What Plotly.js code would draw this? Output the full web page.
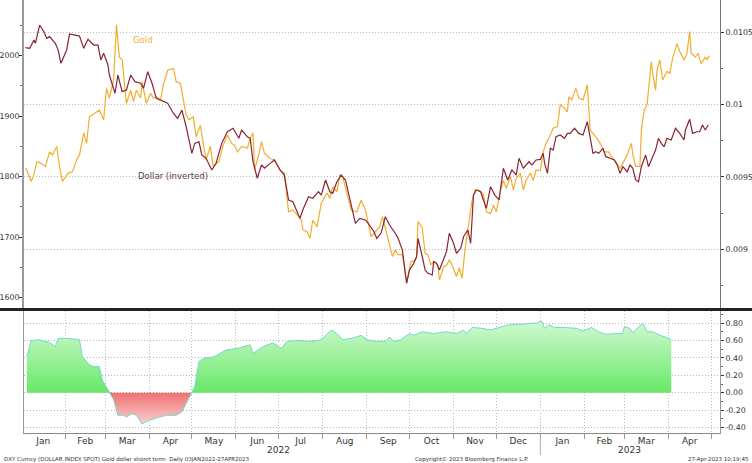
<!DOCTYPE html>
<html>
<head>
<meta charset="utf-8">
<script src="https://cdn.plot.ly/plotly-3.0.1.min.js"></script>
<style>
  body { margin: 0; background: #fff; }
  #chart { width: 752px; height: 463px; }
</style>
</head>
<body>
<div id="chart"></div>
<script>
// Gold spot, USD (left axis)
const goldDates = [
  '2022-01-04','2022-01-05','2022-01-08','2022-01-10','2022-01-12','2022-01-15','2022-01-18','2022-01-21','2022-01-23','2022-01-26','2022-01-28','2022-01-30',
  '2022-02-03','2022-02-06','2022-02-09','2022-02-11','2022-02-14','2022-02-16','2022-02-18','2022-02-22','2022-02-25','2022-02-28',
  '2022-03-02','2022-03-04','2022-03-07','2022-03-09','2022-03-11','2022-03-13','2022-03-16','2022-03-19','2022-03-21','2022-03-23','2022-03-26','2022-03-27','2022-03-30',
  '2022-04-02','2022-04-04','2022-04-06','2022-04-09','2022-04-11','2022-04-14','2022-04-18','2022-04-20','2022-04-23','2022-04-25','2022-04-27','2022-04-29',
  '2022-05-02','2022-05-04','2022-05-07','2022-05-09','2022-05-11','2022-05-14','2022-05-16','2022-05-20','2022-05-23','2022-05-26','2022-05-29','2022-05-31',
  '2022-06-02','2022-06-05','2022-06-09','2022-06-11','2022-06-13','2022-06-14','2022-06-17','2022-06-19','2022-06-21','2022-06-25','2022-06-28',
  '2022-07-02','2022-07-05','2022-07-08','2022-07-11','2022-07-14','2022-07-17','2022-07-18','2022-07-21','2022-07-23','2022-07-25','2022-07-28','2022-07-31',
  '2022-08-04','2022-08-06','2022-08-08','2022-08-11','2022-08-13','2022-08-15','2022-08-18','2022-08-21','2022-08-25','2022-08-28','2022-08-31',
  '2022-09-02','2022-09-04','2022-09-07','2022-09-10','2022-09-12','2022-09-15','2022-09-16','2022-09-19','2022-09-21','2022-09-23','2022-09-26','2022-09-28','2022-09-29',
  '2022-10-02','2022-10-04','2022-10-06','2022-10-07','2022-10-10','2022-10-12','2022-10-14','2022-10-16','2022-10-18','2022-10-21','2022-10-22','2022-10-25','2022-10-27','2022-10-29','2022-10-31',
  '2022-11-03','2022-11-05','2022-11-07','2022-11-09','2022-11-11','2022-11-14','2022-11-16','2022-11-19','2022-11-22','2022-11-24','2022-11-27','2022-11-29',
  '2022-12-01','2022-12-04','2022-12-06','2022-12-08','2022-12-11','2022-12-13','2022-12-15','2022-12-18','2022-12-20','2022-12-22','2022-12-25','2022-12-27','2022-12-29',
  '2023-01-01','2023-01-03','2023-01-05','2023-01-08','2023-01-10','2023-01-13','2023-01-15','2023-01-18','2023-01-20','2023-01-21','2023-01-23','2023-01-26','2023-01-28','2023-01-31',
  '2023-02-03','2023-02-05','2023-02-07','2023-02-10','2023-02-12','2023-02-15','2023-02-18','2023-02-20','2023-02-23','2023-02-26','2023-02-28',
  '2023-03-03','2023-03-06','2023-03-07','2023-03-09','2023-03-12','2023-03-13','2023-03-15','2023-03-17','2023-03-20','2023-03-21','2023-03-23','2023-03-24','2023-03-26','2023-03-28','2023-03-31',
  '2023-04-02','2023-04-04','2023-04-07','2023-04-09','2023-04-12','2023-04-14','2023-04-16','2023-04-17','2023-04-20','2023-04-22','2023-04-24','2023-04-27','2023-04-28','2023-04-30'
];
const goldValues = [
  1814,1811,1792,1803,1825,1822,1817,1841,1836,1850,1817,1792,
  1806,1808,1828,1836,1872,1855,1899,1905,1910,1894,
  1946,1930,1960,2051,1998,1993,1921,1943,1924,1943,1930,1957,1921,
  1938,1930,1932,1927,1952,1976,1979,1957,1954,1930,1902,1894,
  1899,1866,1885,1855,1828,1850,1817,1825,1852,1869,1855,1852,
  1841,1850,1847,1863,1872,1811,1836,1858,1839,1830,1828,
  1811,1806,1742,1745,1737,1728,1712,1709,1698,1728,1717,1756,
  1773,1764,1783,1775,1803,1800,1773,1745,1742,1761,1745,
  1723,1701,1709,1717,1734,1706,1695,1668,1679,1671,1671,1643,1624,
  1660,1660,1668,1726,1715,1673,1671,1654,1660,1654,1629,1651,1654,1662,1654,
  1635,1649,1632,1679,1715,1761,1778,1778,1770,1742,1739,1753,
  1742,1778,1794,1781,1800,1778,1797,1806,1778,1794,1806,1794,1811,
  1810,1841,1855,1869,1880,1883,1919,1913,1907,1932,1927,1946,1930,1927,
  1952,1877,1872,1863,1855,1841,1841,1833,1825,1814,1822,
  1836,1855,1836,1817,1817,1877,1910,1919,1990,1971,1943,1976,1993,1960,1974,
  1971,1996,2020,2007,1993,2004,2040,2004,1998,2004,1987,1998,1993,2000
];

// Dollar index, inverted (1/DXY, right axis)
const dollarDates = [
  '2022-01-04','2022-01-07','2022-01-10','2022-01-11','2022-01-14','2022-01-17','2022-01-19','2022-01-21','2022-01-25','2022-01-27','2022-01-29',
  '2022-02-02','2022-02-04','2022-02-08','2022-02-11','2022-02-14','2022-02-17','2022-02-21','2022-02-24','2022-02-26','2022-02-28',
  '2022-03-03','2022-03-04','2022-03-08','2022-03-10','2022-03-13','2022-03-16','2022-03-19','2022-03-22','2022-03-26','2022-03-28','2022-03-31',
  '2022-04-03','2022-04-06','2022-04-11','2022-04-14','2022-04-18','2022-04-21','2022-04-24','2022-04-27',
  '2022-05-01','2022-05-03','2022-05-06','2022-05-08','2022-05-11','2022-05-15','2022-05-18','2022-05-22','2022-05-26','2022-05-30',
  '2022-06-03','2022-06-05','2022-06-09','2022-06-11','2022-06-13','2022-06-16','2022-06-19','2022-06-21','2022-06-25','2022-06-28',
  '2022-07-02','2022-07-05','2022-07-08','2022-07-11','2022-07-14','2022-07-16','2022-07-18','2022-07-22','2022-07-25','2022-07-29','2022-07-31',
  '2022-08-03','2022-08-06','2022-08-08','2022-08-11','2022-08-14','2022-08-17','2022-08-19','2022-08-22','2022-08-24','2022-08-27','2022-08-31',
  '2022-09-02','2022-09-06','2022-09-08','2022-09-11','2022-09-14','2022-09-17','2022-09-21','2022-09-23','2022-09-26','2022-09-28','2022-09-29',
  '2022-10-01','2022-10-04','2022-10-06','2022-10-07','2022-10-10','2022-10-12','2022-10-14','2022-10-17','2022-10-18','2022-10-20','2022-10-22','2022-10-25','2022-10-27','2022-10-29',
  '2022-11-01','2022-11-03','2022-11-06','2022-11-08','2022-11-11','2022-11-13','2022-11-15','2022-11-17','2022-11-20','2022-11-22','2022-11-24','2022-11-27','2022-11-30',
  '2022-12-03','2022-12-06','2022-12-09','2022-12-12','2022-12-15','2022-12-17','2022-12-20','2022-12-24','2022-12-26','2022-12-29',
  '2023-01-01','2023-01-03','2023-01-04','2023-01-06','2023-01-08','2023-01-10','2023-01-12','2023-01-15','2023-01-18','2023-01-20','2023-01-22','2023-01-25','2023-01-28','2023-01-31',
  '2023-02-03','2023-02-05','2023-02-07','2023-02-09','2023-02-11','2023-02-14','2023-02-16','2023-02-19','2023-02-22','2023-02-24','2023-02-26','2023-02-28',
  '2023-03-03','2023-03-05','2023-03-07','2023-03-09','2023-03-11','2023-03-13','2023-03-16','2023-03-18','2023-03-20','2023-03-23','2023-03-25','2023-03-27','2023-03-29','2023-03-31',
  '2023-04-03','2023-04-06','2023-04-09','2023-04-12','2023-04-13','2023-04-16','2023-04-18','2023-04-21','2023-04-23','2023-04-25','2023-04-27','2023-04-29'
];
const dollarValues = [
  0.010392,0.010387,0.010445,0.010422,0.010548,0.010502,0.010456,0.010468,0.010422,0.010376,0.010284,
  0.010376,0.010486,0.010479,0.010472,0.010387,0.010450,0.010410,0.010410,0.010307,0.010353,
  0.010272,0.010203,0.010077,0.010203,0.010088,0.010099,0.010203,0.010157,0.010146,0.010111,0.010226,
  0.010146,0.010042,0.010019,0.010008,0.009939,0.009904,0.009961,0.009846,
  0.009662,0.009731,0.009742,0.009651,0.009628,0.009547,0.009593,0.009731,0.009811,0.009835,
  0.009766,0.009823,0.009777,0.009766,0.009604,0.009490,0.009582,0.009559,0.009593,0.009616,
  0.009547,0.009512,0.009340,0.009328,0.009259,0.009213,0.009271,0.009363,0.009352,0.009397,0.009374,
  0.009478,0.009397,0.009386,0.009466,0.009512,0.009478,0.009397,0.009271,0.009179,0.009213,0.009202,
  0.009179,0.009121,0.009075,0.009110,0.009224,0.009167,0.009110,0.009075,0.008994,0.008856,0.008765,
  0.008856,0.008903,0.008948,0.009075,0.008948,0.008856,0.008834,0.008822,0.008914,0.008903,0.008856,0.008925,0.008983,0.009110,
  0.009041,0.008972,0.009006,0.009086,0.009133,0.009041,0.009374,0.009409,0.009397,0.009340,0.009282,0.009432,0.009374,
  0.009340,0.009559,0.009478,0.009547,0.009512,0.009628,0.009559,0.009604,0.009582,0.009616,
  0.009620,0.009662,0.009593,0.009524,0.009697,0.009685,0.009777,0.009789,0.009766,0.009800,0.009800,0.009835,0.009800,0.009789,
  0.009881,0.009777,0.009662,0.009673,0.009662,0.009697,0.009639,0.009628,0.009616,0.009582,0.009524,0.009570,
  0.009535,0.009582,0.009559,0.009478,0.009466,0.009570,0.009651,0.009570,0.009616,0.009685,0.009766,0.009731,0.009708,0.009766,
  0.009754,0.009835,0.009800,0.009754,0.009823,0.009897,0.009800,0.009811,0.009811,0.009858,0.009823,0.009858
];

// Short-term correlation, gold vs dollar (lower panel)
const corrDates = [
  '2022-01-05','2022-01-08','2022-01-10','2022-01-14','2022-01-17','2022-01-21','2022-01-25','2022-01-27',
  '2022-02-02','2022-02-11','2022-02-13','2022-02-16','2022-02-18','2022-02-21','2022-02-25','2022-02-27',
  '2022-03-02','2022-03-04','2022-03-07','2022-03-10','2022-03-14','2022-03-16','2022-03-20','2022-03-23','2022-03-27','2022-03-30',
  '2022-04-06','2022-04-13','2022-04-20','2022-04-24','2022-04-27',
  '2022-05-01','2022-05-03','2022-05-06','2022-05-10','2022-05-16','2022-05-21','2022-05-25',
  '2022-06-02','2022-06-06','2022-06-11','2022-06-13','2022-06-18','2022-06-23','2022-06-27',
  '2022-07-03','2022-07-07','2022-07-14','2022-07-21','2022-07-29',
  '2022-08-01','2022-08-07','2022-08-11','2022-08-15','2022-08-22','2022-08-28',
  '2022-09-01','2022-09-07','2022-09-14','2022-09-17','2022-09-20','2022-09-25',
  '2022-10-01','2022-10-04','2022-10-10','2022-10-18','2022-10-27',
  '2022-11-03','2022-11-08','2022-11-10','2022-11-14','2022-11-21','2022-11-27',
  '2022-12-01','2022-12-10','2022-12-20','2022-12-29',
  '2023-01-02','2023-01-04','2023-01-07','2023-01-11','2023-01-17','2023-01-26','2023-01-31',
  '2023-02-06','2023-02-11','2023-02-16','2023-02-23','2023-02-28',
  '2023-03-01','2023-03-05','2023-03-07','2023-03-10','2023-03-14','2023-03-17','2023-03-21','2023-03-26','2023-03-30',
  '2023-04-03'
];
const corrValues = [
  0.41,0.60,0.60,0.61,0.59,0.58,0.53,0.625,
  0.625,0.61,0.41,0.36,0.32,0.30,0.30,0.146,
  0.06,0.01,-0.08,-0.26,-0.26,-0.28,-0.24,-0.26,-0.36,-0.33,
  -0.29,-0.26,-0.26,-0.22,-0.12,
  0.00,0.07,0.36,0.40,0.41,0.45,0.49,
  0.51,0.53,0.55,0.45,0.51,0.55,0.57,
  0.51,0.59,0.60,0.59,0.60,
  0.625,0.72,0.68,0.61,0.625,0.66,
  0.61,0.59,0.59,0.64,0.59,0.61,
  0.68,0.66,0.70,0.68,0.70,
  0.68,0.72,0.68,0.75,0.74,0.72,
  0.74,0.78,0.79,0.80,
  0.82,0.74,0.78,0.75,0.75,0.74,0.71,
  0.75,0.70,0.67,0.68,0.68,
  0.76,0.74,0.69,0.74,0.80,0.70,0.70,0.66,0.64,
  0.61
];

const leftTicks = [1600, 1700, 1800, 1900, 2000];
const rightTicks = [0.009, 0.0095, 0.01, 0.0105];
const rightTickText = ['0.009', '0.0095', '0.01', '0.0105'];
const corrTicks = [-0.4, -0.2, 0, 0.2, 0.4, 0.6, 0.8];
const corrTickText = ['-0.40', '-0.20', '0.00', '0.20', '0.40', '0.60', '0.80'];

const FONT = 'DejaVu Sans, Verdana, sans-serif';
const GOLD = '#f2ae2e';
const DOLLAR = '#8a2434';
const PLOT_H = 433;   // plot area height in px (463 - bottom margin)

let corrPos = corrValues.map(v => Math.max(v, 0));
let corrNeg = corrValues.map(v => Math.min(v, 0));

let data = [
  {
    x: corrDates, y: corrPos, xaxis: 'x', yaxis: 'y3',
    type: 'scatter', mode: 'lines', line: {width: 0},
    fill: 'tozeroy',
    fillgradient: {type: 'vertical', start: 0, stop: 0.85,
      colorscale: [[0, '#68e868'], [1, '#d4fad4']]},
    hoverinfo: 'skip'
  },
  {
    x: corrDates, y: corrNeg, xaxis: 'x', yaxis: 'y3',
    type: 'scatter', mode: 'lines', line: {width: 0},
    fill: 'tozeroy',
    fillgradient: {type: 'vertical', start: -0.38, stop: 0,
      colorscale: [[0, '#fbd4d4'], [1, '#f07272']]},
    hoverinfo: 'skip'
  },
  {
    x: corrDates, y: corrValues, xaxis: 'x', yaxis: 'y3',
    type: 'scatter', mode: 'lines',
    line: {color: '#74d8cc', width: 1}
  },
  {
    x: goldDates, y: goldValues, xaxis: 'x2', yaxis: 'y',
    type: 'scatter', mode: 'lines', name: 'Gold',
    line: {color: GOLD, width: 1.2}
  },
  {
    x: dollarDates, y: dollarValues, xaxis: 'x2', yaxis: 'y2',
    type: 'scatter', mode: 'lines', name: 'Dollar (inverted)',
    line: {color: DOLLAR, width: 1.2}
  }
];

const xRange = ['2022-01-03', '2023-05-07 07:00'];
const tickFont = {family: FONT, size: 7.8, color: '#333'};
const DOT = '1px,2px';

let layout = {
  width: 752,
  height: 463,
  margin: {l: 24, r: 32, t: 0, b: 30},
  paper_bgcolor: '#fff',
  plot_bgcolor: '#fff',
  showlegend: false,
  font: {family: FONT, size: 8, color: '#333'},
  xaxis: {
    type: 'date', domain: [0, 1], anchor: 'y3', range: xRange,
    tick0: '2022-01-01', dtick: 'M1', tickformat: '%b', ticklabelmode: 'period',
    ticks: 'outside', ticklen: 5, tickcolor: '#999', ticklabelstandoff: -6,
    tickfont: {family: FONT, size: 9, color: '#333'},
    showline: true, linecolor: '#888', linewidth: 1,
    showgrid: true, gridcolor: '#bdbdbd', griddash: DOT, gridwidth: 1,
    zeroline: false
  },
  xaxis2: {
    type: 'date', domain: [0, 1], anchor: 'y', matches: 'x', range: xRange,
    showticklabels: false, ticks: '', showgrid: false, showline: false, zeroline: false
  },
  yaxis: {
    domain: [1 - 308 / PLOT_H, 1], anchor: 'x2', side: 'left', range: [1582.9, 2092.1],
    tickmode: 'array', tickvals: leftTicks,
    ticks: 'outside', ticklen: 3, tickcolor: '#333', tickfont: tickFont, ticklabelstandoff: -2,
    minor: {dtick: 50, tick0: 0, ticks: 'outside', ticklen: 2, tickcolor: '#666', showgrid: false},
    showline: true, linecolor: '#9a9a9a', linewidth: 2,
    showgrid: false, zeroline: false
  },
  yaxis2: {
    overlaying: 'y', anchor: 'x2', side: 'right', range: [0.008594, 0.010721],
    tickmode: 'array', tickvals: rightTicks, ticktext: rightTickText,
    ticks: 'outside', ticklen: 3, tickcolor: '#333', tickfont: tickFont,
    minor: {dtick: 0.00025, tick0: 0, ticks: 'outside', ticklen: 2, tickcolor: '#666', showgrid: false},
    showline: true, linecolor: '#777', linewidth: 1,
    showgrid: true, gridcolor: '#b8b8b8', griddash: DOT, gridwidth: 1,
    zeroline: false
  },
  yaxis3: {
    domain: [0, (PLOT_H - 311) / PLOT_H], anchor: 'x', side: 'right', range: [-0.463, 0.939],
    tickmode: 'array', tickvals: corrTicks, ticktext: corrTickText,
    ticks: 'outside', ticklen: 3, tickcolor: '#333', tickfont: tickFont,
    minor: {dtick: 0.1, tick0: 0, ticks: 'outside', ticklen: 2, tickcolor: '#666', showgrid: false},
    showline: true, linecolor: '#999', linewidth: 1, mirror: true,
    showgrid: true, gridcolor: '#b8b8b8', griddash: DOT, gridwidth: 1,
    zeroline: false
  },
  shapes: [
    // heavy divider between the panels
    {type: 'line', xref: 'paper', yref: 'paper',
     x0: -24 / 696, x1: 728 / 696, y0: 1 - 309.5 / PLOT_H, y1: 1 - 309.5 / PLOT_H,
     line: {color: '#222', width: 3}},
    // year separator under the axis
    {type: 'line', xref: 'x', yref: 'paper',
     x0: '2023-01-01', x1: '2023-01-01', y0: -2 / PLOT_H, y1: -22 / PLOT_H,
     line: {color: '#aaa', width: 1}}
  ],
  annotations: [
    {text: 'Gold', xref: 'paper', yref: 'paper', x: 0.171, y: 1 - 40 / PLOT_H,
     xanchor: 'center', yanchor: 'middle',
     showarrow: false, font: {family: FONT, size: 8.5, color: GOLD}},
    {text: 'Dollar (inverted)', xref: 'paper', yref: 'paper', x: 0.214, y: 1 - 176 / PLOT_H,
     xanchor: 'center', yanchor: 'middle',
     showarrow: false, font: {family: FONT, size: 8.5, color: '#5e3b48'}},
    {text: '2022', xref: 'x', yref: 'paper', x: '2022-07-01', y: -17 / PLOT_H,
     yanchor: 'middle', showarrow: false, font: {family: FONT, size: 9, color: '#333'}},
    {text: '2023', xref: 'x', yref: 'paper', x: '2023-03-05', y: -17 / PLOT_H,
     yanchor: 'middle', showarrow: false, font: {family: FONT, size: 9, color: '#333'}},
    {text: 'DXY Curncy (DOLLAR INDEX SPOT) Gold dollar shoret term  Daily 03JAN2022-27APR2023',
     xref: 'paper', yref: 'paper', x: -22 / 696, y: -26 / PLOT_H, xanchor: 'left', yanchor: 'middle',
     showarrow: false, font: {family: FONT, size: 5.5, color: '#333'}},
    {text: 'Copyright© 2023 Bloomberg Finance L.P.',
     xref: 'paper', yref: 'paper', x: 448 / 696, y: -26 / PLOT_H, xanchor: 'center', yanchor: 'middle',
     showarrow: false, font: {family: FONT, size: 5.5, color: '#333'}},
    {text: '27-Apr-2023 10:19:45',
     xref: 'paper', yref: 'paper', x: 727 / 696, y: -26 / PLOT_H, xanchor: 'right', yanchor: 'middle',
     showarrow: false, font: {family: FONT, size: 5.5, color: '#333'}}
  ]
};

Plotly.newPlot('chart', data, layout, {displayModeBar: false, staticPlot: true});
</script>
</body>
</html>
